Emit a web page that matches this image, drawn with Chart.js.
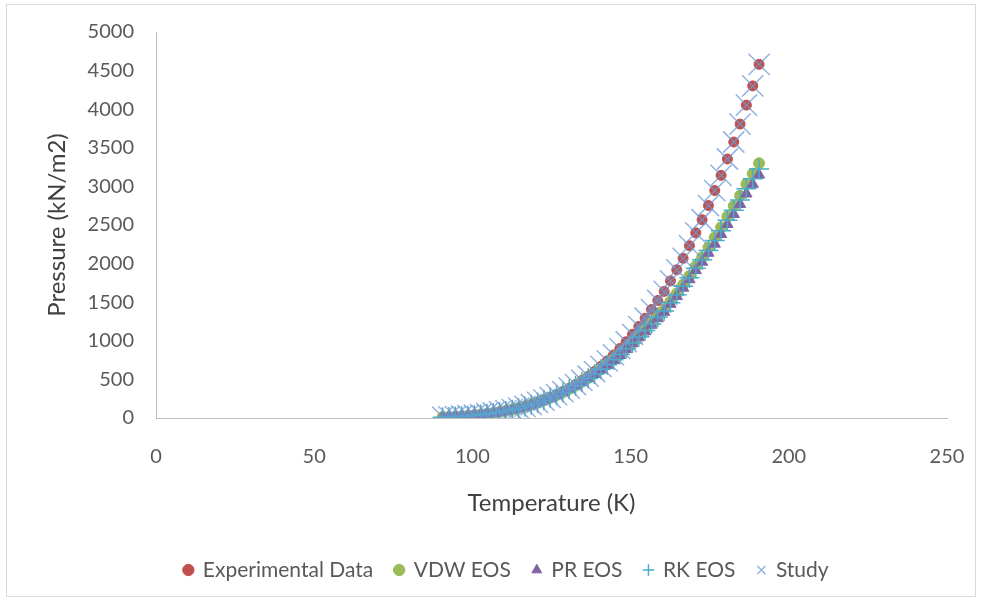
<!DOCTYPE html>
<html><head><meta charset="utf-8">
<script src="https://cdn.jsdelivr.net/npm/chart.js@4/dist/chart.umd.min.js"></script>
<style>html,body{margin:0;padding:0;background:#fff}canvas{display:block}</style>
</head><body>
<canvas id="c" width="981" height="600"></canvas>
<script>
// ---- data ----
const temperatures = [90.6, 92.6, 94.6, 96.6, 98.6, 100.6, 102.6, 104.6, 106.6, 108.6,
  110.6, 112.6, 114.6, 116.6, 118.6, 120.6, 122.6, 124.6, 126.6, 128.6,
  130.6, 132.6, 134.6, 136.6, 138.6, 140.6, 142.6, 144.6, 146.6, 148.6,
  150.6, 152.6, 154.6, 156.6, 158.6, 160.6, 162.6, 164.6, 166.6, 168.6,
  170.6, 172.6, 174.6, 176.6, 178.6, 180.6, 182.6, 184.6, 186.6, 188.6, 190.6];

const experimentalData = [11.7, 15.0, 19.2, 23.9, 29.8, 36.9, 45.0, 54.9, 65.9, 78.7,
  93.4, 109.8, 129, 150, 175, 202, 232, 266, 302, 342,
  386, 433, 486, 541, 602, 668, 739, 817, 899, 988,
  1084, 1185, 1292, 1405, 1522, 1640, 1776, 1920, 2068, 2232,
  2398, 2568, 2752, 2946, 3143, 3355, 3575, 3807, 4053, 4302, 4581];

const vdwEos = [11.5, 14.8, 19.0, 23.7, 29.5, 36.6, 44.7, 54.5, 65.5, 78.2,
  92.8, 109.1, 128, 149, 174, 200, 230, 262, 297, 335,
  376, 420, 469, 519, 575, 635, 695, 760, 827, 904,
  981, 1061, 1143, 1229, 1317, 1402, 1510, 1613, 1727, 1841,
  1966, 2080, 2210, 2340, 2470, 2610, 2745, 2880, 3030, 3165, 3300];

const prEos = [11.0, 14.2, 18.3, 22.9, 28.6, 35.5, 43.5, 53.1, 63.9, 76.4,
  90.8, 106.9, 125.5, 146, 171, 198, 228, 259, 294, 331,
  372, 415, 463, 512, 567, 626, 685, 748, 814, 889,
  964, 1042, 1121, 1205, 1290, 1372, 1476, 1576, 1685, 1794,
  1913, 2021, 2137, 2255, 2380, 2510, 2640, 2770, 2905, 3030, 3150];

const rkEos = [11.3, 14.5, 18.6, 23.3, 29.0, 36.0, 44.1, 53.8, 64.7, 77.3,
  91.8, 108.0, 126.7, 147.5, 172.5, 199, 229, 261, 296, 333,
  374, 418, 466, 516, 571, 631, 690, 754, 821, 897,
  973, 1052, 1132, 1217, 1304, 1387, 1493, 1595, 1706, 1818,
  1940, 2051, 2170, 2298, 2425, 2560, 2692, 2825, 2968, 3098, 3225];

const study = [11.7, 15.0, 19.2, 23.9, 29.8, 36.9, 45.0, 54.9, 65.9, 78.7,
  93.4, 109.8, 129, 150, 175, 202, 232, 266, 302, 342,
  386, 433, 486, 541, 602, 668, 739, 817, 899, 988,
  1084, 1185, 1292, 1405, 1522, 1640, 1776, 1920, 2068, 2232,
  2398, 2568, 2752, 2946, 3143, 3355, 3575, 3807, 4053, 4302, 4581];

const seriesNames = ['Experimental Data', 'VDW EOS', 'PR EOS', 'RK EOS', 'Study'];
const xTickValues = [0, 50, 100, 150, 200, 250];
const yTickValues = [0, 500, 1000, 1500, 2000, 2500, 3000, 3500, 4000, 4500, 5000];
const xTitle = 'Temperature (K)';
const yTitle = 'Pressure (kN/m2)';

// ---- chart ----
function points(values) { return temperatures.map((t, i) => ({ x: t, y: values[i] })); }

const FONT = 'Lato, "Open Sans", sans-serif';

const frame = {
  id: 'frame',
  beforeDraw(chart) {
    const ctx = chart.ctx;
    ctx.save();
    ctx.fillStyle = '#ffffff';
    ctx.fillRect(0, 0, chart.width, chart.height);
    ctx.strokeStyle = '#d9d9d9';
    ctx.lineWidth = 1;
    ctx.strokeRect(6.5, 4.5, 969, 592);
    ctx.restore();
  }
};
const legendShift = {
  id: 'legendShift',
  afterLayout(chart) {
    if (chart.legend) { chart.legend.left += 33; chart.legend.right += 33; }
  }
};

new Chart(document.getElementById('c'), {
  type: 'scatter',
  data: {
    datasets: [
      { label: seriesNames[0], data: points(experimentalData), order: 5,
        pointStyle: 'circle', pointRadius: 5, pointBackgroundColor: '#C0504D', pointBorderColor: '#C0504D',
        backgroundColor: '#C0504D', borderColor: '#C0504D', pointBorderWidth: 1, borderWidth: 1 },
      { label: seriesNames[1], data: points(vdwEos), order: 4,
        pointStyle: 'circle', pointRadius: 5.5, pointBackgroundColor: '#9BBB59', pointBorderColor: '#9BBB59',
        backgroundColor: '#9BBB59', borderColor: '#9BBB59', pointBorderWidth: 1, borderWidth: 1 },
      { label: seriesNames[2], data: points(prEos), order: 3,
        pointStyle: 'triangle', pointRadius: 6.5, pointBackgroundColor: '#8064A2', pointBorderColor: '#8064A2',
        backgroundColor: '#8064A2', borderColor: '#8064A2', pointBorderWidth: 1, borderWidth: 1 },
      { label: seriesNames[3], data: points(rkEos), order: 2,
        pointStyle: 'cross', pointRadius: 10, pointBackgroundColor: '#4BACC6', pointBorderColor: '#4BACC6',
        backgroundColor: '#4BACC6', borderColor: '#4BACC6', pointBorderWidth: 1.5, borderWidth: 1.5 },
      { label: seriesNames[4], data: points(study), order: 1,
        pointStyle: 'crossRot', pointRadius: 15, pointBackgroundColor: 'rgba(110,152,212,0.75)', pointBorderColor: 'rgba(110,152,212,0.75)',
        backgroundColor: 'rgba(110,152,212,0.75)', borderColor: 'rgba(110,152,212,0.75)', pointBorderWidth: 1.5, borderWidth: 1.5 }
    ]
  },
  options: {
    responsive: false,
    animation: false,
    devicePixelRatio: 1,
    layout: { padding: { left: 0, right: 34, top: 32, bottom: 9.5 } },
    plugins: {
      tooltip: { enabled: false },
      legend: {
        position: 'bottom',
        align: 'center',
        labels: {
          usePointStyle: true,
          boxWidth: 8, boxHeight: 8,
          padding: 22,
          color: '#595959',
          font: { family: FONT, size: 21 },
          sort: (a, b) => a.datasetIndex - b.datasetIndex
        }
      }
    },
    scales: {
      x: {
        type: 'linear',
        min: xTickValues[0], max: xTickValues[xTickValues.length - 1],
        afterBuildTicks(scale) { scale.ticks = xTickValues.map(v => ({ value: v })); },
        afterFit(scale) { scale.height = 119.5; },
        grid: { display: true, drawOnChartArea: false, drawTicks: true, tickLength: 27, tickColor: 'rgba(0,0,0,0)' },
        border: { display: true, color: '#bfbfbf', width: 1 },
        ticks: { color: '#595959', font: { family: FONT, size: 20 }, padding: 0, maxRotation: 0,
                 callback: v => String(v) },
        title: { display: true, text: xTitle, color: '#404040', font: { family: FONT, size: 24 }, padding: { top: 0, bottom: 20 } }
      },
      y: {
        type: 'linear',
        min: yTickValues[0], max: yTickValues[yTickValues.length - 1],
        afterBuildTicks(scale) { scale.ticks = yTickValues.map(v => ({ value: v })); },
        afterFit(scale) { scale.width = 156; },
        grid: { display: true, drawOnChartArea: false, drawTicks: true, tickLength: 22, tickColor: 'rgba(0,0,0,0)' },
        border: { display: true, color: '#bfbfbf', width: 1 },
        ticks: { color: '#595959', font: { family: FONT, size: 20 }, padding: 0,
                 callback: v => String(v) },
        title: { display: true, text: yTitle, color: '#404040', font: { family: FONT, size: 24 }, padding: { top: 43, bottom: 0 } }
      }
    }
  },
  plugins: [frame, legendShift]
});
</script>
</body></html>
